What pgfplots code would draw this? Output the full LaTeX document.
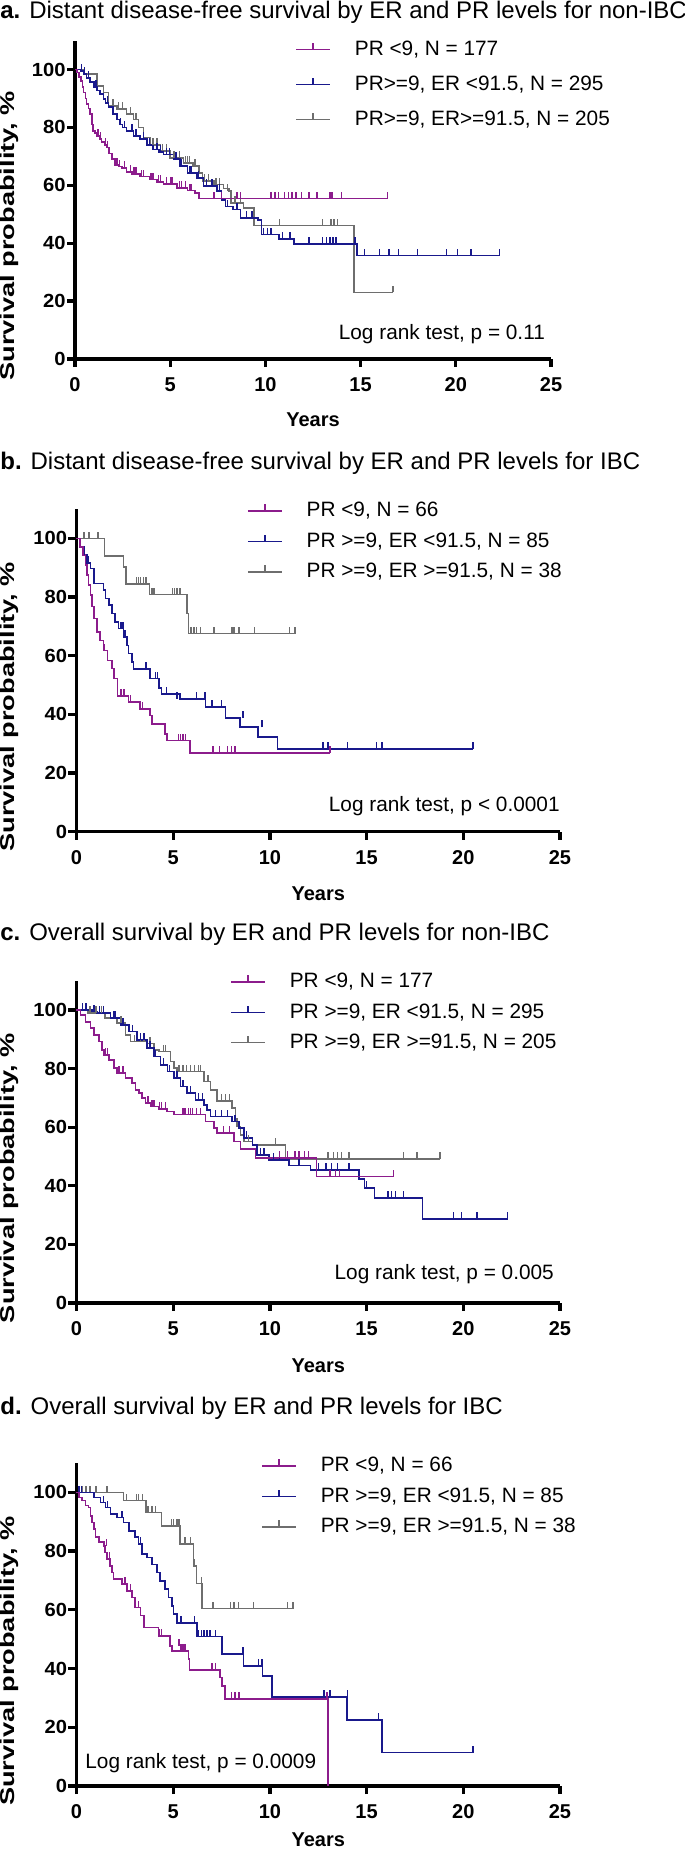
\documentclass[border=0pt]{standalone}
\usepackage{fontspec}
\setmainfont{Liberation Sans}
\usepackage{graphicx}
\usepackage{pgfplots}
\pgfplotsset{compat=1.18}
\definecolor{kmP}{RGB}{140,28,140}
\definecolor{kmB}{RGB}{25,25,140}
\definecolor{kmG}{RGB}{110,110,110}
\pgfdeclareplotmark{cens}{\pgfpathmoveto{\pgfpointorigin}\pgfpathlineto{\pgfpoint{0pt}{3.4pt}}\pgfusepathqstroke}
\pgfplotsset{
 km/.style={
  scale only axis, xmin=0, xmax=25, ymin=0, ymax=110,
  axis lines=left, axis line style={-, line width=1.6pt},
  xtick={0,5,10,15,20,25}, ytick={0,20,40,60,80,100},
  tick align=outside, major tick length=4pt,
  tick style={line width=1.6pt, black},
  /pgf/number format/assume math mode=true,
  xticklabel style={font=\bfseries\fontsize{10}{11}\selectfont, anchor=base, inner sep=0pt, yshift=-12.2pt},
  yticklabel style={font=\bfseries\fontsize{9.5}{10}\selectfont, anchor=east, inner sep=0pt, xshift=-0.5pt},
  yticklabel={\scalebox{1.06}[1]{\pgfmathprintnumber{\tick}}},
  xlabel={Years}, ylabel={\scalebox{1.36}[1]{Survival probability, \%}},
  label style={font=\bfseries\fontsize{10}{12}\selectfont},
  clip=false,
  legend cell align=left,
  legend style={draw=none, fill=none, inner sep=0pt, anchor=west, row sep=2.4pt,
     font=\fontsize{10.4}{12}\selectfont},
  legend image code/.code={\draw (0pt,0pt) -- (17pt,0pt); \draw (8.5pt,0pt) -- (8.5pt,3.4pt); \path (27pt,0pt);},
 },
 kmstep/.style={const plot, line width=0.8pt, forget plot, mark=none},
 kmcens/.style={only marks, mark=cens, line width=0.7pt, forget plot},
}
\begin{document}
\begin{tikzpicture}
\path[use as bounding box] (0pt,0pt) rectangle (342.5pt,926.5pt);
\tikzset{ttl/.style={anchor=base west, inner sep=0pt, font=\fontsize{12}{14}\selectfont}}
\node[ttl] at (0pt,917.35pt) {\textbf{a.} Distant disease-free survival by ER and PR levels for non-IBC};
\node[ttl] at (0pt,691.5pt) {\textbf{b.} Distant disease-free survival by ER and PR levels for IBC};
\node[ttl] at (0pt,456.25pt) {\textbf{c.} Overall survival by ER and PR levels for non-IBC};
\node[ttl] at (0pt,219.35pt) {\textbf{d.} Overall survival by ER and PR levels for IBC};

% ---------------- panel a
\begin{axis}[km, at={(37.5pt,747pt)}, anchor=south west, width=238pt, height=159.2pt,
  ylabel style={at={(axis description cs:-0.138,0.387)}, anchor=center},
  xlabel style={at={(axis description cs:0.5,0)}, anchor=base, yshift=-33.7pt},
  legend style={at={(axis cs:11.55,94.8)}, row sep=4.7pt}]
\addlegendimage{kmP, line width=0.8pt}\addlegendentry{PR <9, N = 177}
\addlegendimage{kmB, line width=0.8pt}\addlegendentry{PR>=9, ER <91.5, N = 295}
\addlegendimage{kmG, line width=0.8pt}\addlegendentry{PR>=9, ER>=91.5, N = 205}
\addplot[kmstep, kmG] coordinates {(0,100) (0.5,98.5) (1.14,94.4) (1.5,92) (1.75,87.5) (2.2,86.3) (2.7,84.6) (3.07,82.8) (3.33,80) (3.6,76.5) (3.95,74) (4.5,71.8) (5.0,69.5) (5.7,67.8) (6.2,66.6) (6.5,64.3) (6.7,61.4) (7.3,60.3) (7.8,58.9) (8.1,58) (8.2,53.9) (8.85,52.1) (9.4,46.1) (14.65,23) (16.7,23)};
\addplot[kmcens, kmG] coordinates {(2.0,87.5) (2.3,86.3) (2.5,86.3) (2.9,84.6) (3.2,82.8) (4.1,74) (4.3,74) (4.6,71.8) (4.8,71.8) (5.2,69.5) (5.5,69.5) (5.8,67.8) (5.9,67.8) (6.0,67.8) (6.3,66.6) (6.8,61.4) (7.0,61.4) (7.4,60.3) (7.6,60.3) (8.0,58) (8.4,53.9) (8.7,53.9) (10.75,46.1) (13.0,46.1) (13.45,46.1) (13.6,46.1) (13.8,46.1) (16.7,23)};
\addplot[kmstep, kmB] coordinates {(0,100) (0.3,99.5) (0.44,98.5) (0.6,97) (0.8,95.6) (1.0,94) (1.14,92.7) (1.3,91.5) (1.5,89.8) (1.6,88.5) (1.75,87) (2.0,84.6) (2.2,82.8) (2.37,81) (2.5,80) (2.7,78.8) (3.07,77) (3.4,75.9) (3.77,74) (4.1,72.4) (4.4,71.6) (4.65,70.7) (5.2,69) (5.5,66.6) (5.9,64.3) (6.4,62.6) (6.75,59.7) (7.46,58) (7.7,55) (7.9,52.7) (8.3,51.6) (8.7,48.7) (9.6,48) (9.8,43) (10.7,41.5) (11.5,39.8) (14.8,35.8) (22.3,35.8)};
\addplot[kmcens, kmB] coordinates {(0.35,99.5) (0.5,98.5) (0.7,97) (1.1,94) (1.7,88.5) (2.4,81) (2.6,80) (3.0,78.8) (3.2,77) (3.6,75.9) (3.9,74) (4.3,72.4) (4.5,71.6) (4.8,70.7) (4.95,70.7) (5.3,69) (5.6,66.6) (6.0,64.3) (6.1,64.3) (6.5,62.6) (6.9,59.7) (7.2,59.7) (7.6,58) (8.0,52.7) (8.5,51.6) (9.0,48.7) (9.3,48.7) (9.9,43) (10.1,43) (10.3,43) (10.9,41.5) (11.3,41.5) (12.3,39.8) (13.0,39.8) (13.2,39.8) (13.4,39.8) (13.55,39.8) (13.7,39.8) (14.7,39.8) (15.2,35.8) (16.0,35.8) (16.5,35.8) (17.0,35.8) (18.0,35.8) (19.5,35.8) (20.1,35.8) (20.8,35.8) (22.3,35.8)};
\addplot[kmstep, kmP] coordinates {(0,100) (0.1,99) (0.2,97.5) (0.3,96) (0.4,94) (0.45,92) (0.55,90) (0.6,88) (0.7,86.5) (0.8,84.6) (0.9,81) (0.96,78.8) (1.05,78) (1.14,77) (1.3,76) (1.4,75) (1.55,74) (1.67,73) (1.8,71) (1.93,69) (2.1,67) (2.3,66.5) (2.46,66) (2.7,64.7) (3.0,64) (3.4,63) (3.95,62) (4.3,61.2) (4.65,60.5) (5.35,59.1) (5.9,58.2) (6.3,57.4) (6.5,55.4) (16.4,55.4)};
\addplot[kmcens, kmP] coordinates {(1.2,77) (1.35,76) (1.6,74) (1.7,73) (2.2,67) (2.35,66.5) (2.6,66) (2.9,64.7) (3.1,64) (3.2,64) (3.5,63) (3.6,63) (4.0,62) (4.1,62) (4.4,61.2) (4.5,61.2) (4.8,60.5) (5.0,60.5) (5.1,60.5) (5.5,59.1) (5.6,59.1) (5.8,59.1) (6.0,58.2) (6.1,58.2) (7.3,55.4) (7.7,55.4) (8.5,55.4) (8.7,55.4) (10.3,55.4) (10.5,55.4) (10.7,55.4) (11.0,55.4) (11.2,55.4) (11.4,55.4) (11.6,55.4) (11.9,55.4) (12.3,55.4) (12.7,55.4) (13.4,55.4) (13.5,55.4) (14.0,55.4) (16.4,55.4)};
\node[anchor=base east, inner sep=0pt, font=\fontsize{10.4}{12}\selectfont] at (axis cs:24.7,6.6) {Log rank test, p = 0.11};
\end{axis}

% ---------------- panel b
\begin{axis}[km, at={(38.25pt,510.65pt)}, anchor=south west, width=241.75pt, height=161.35pt,
  ylabel style={at={(axis description cs:-0.139,0.387)}, anchor=center},
  xlabel style={at={(axis description cs:0.5,0)}, anchor=base, yshift=-34.5pt},
  legend style={at={(axis cs:8.8,98.9)}}]
\addlegendimage{kmP, line width=0.8pt}\addlegendentry{PR <9, N = 66}
\addlegendimage{kmB, line width=0.8pt}\addlegendentry{PR >=9, ER <91.5, N = 85}
\addlegendimage{kmG, line width=0.8pt}\addlegendentry{PR >=9, ER >=91.5, N = 38}
\addplot[kmstep, kmG] coordinates {(0,100) (1.45,94) (2.43,90.3) (2.57,84.4) (3.78,80.9) (5.7,74.4) (5.8,67.5) (11.3,67.5)};
\addplot[kmcens, kmG] coordinates {(0.38,100) (0.64,100) (1.12,100) (3.1,84.4) (3.2,84.4) (3.3,84.4) (3.45,84.4) (3.6,84.4) (3.9,80.9) (4.0,80.9) (4.95,80.9) (5.07,80.9) (5.2,80.9) (5.35,80.9) (5.93,67.5) (6.07,67.5) (6.2,67.5) (6.4,67.5) (7.1,67.5) (8.05,67.5) (8.14,67.5) (8.4,67.5) (9.2,67.5) (11.0,67.5) (11.3,67.5)};
\addplot[kmstep, kmB] coordinates {(0,100) (0.2,97) (0.38,94.3) (0.55,91.5) (0.72,89.7) (0.89,84.6) (1.4,82.3) (1.49,79.5) (1.66,77.2) (1.83,74.4) (2.0,71.5) (2.17,69.2) (2.43,66.4) (2.6,63.5) (2.69,60.7) (2.86,57.9) (2.95,55.4) (3.8,52.2) (4.28,49) (4.4,47) (5.34,45.3) (6.68,42.5) (7.71,38.8) (8.46,35.6) (9.37,32.2) (10.4,28.2) (20.5,28.2)};
\addplot[kmcens, kmB] coordinates {(0.4,94.3) (0.6,91.5) (1.5,79.5) (1.7,77.2) (2.3,69.2) (2.4,69.2) (2.5,66.4) (3.6,55.4) (4.1,52.2) (4.2,52.2) (4.65,47) (5.2,45.3) (6.2,45.3) (6.65,45.3) (7.0,42.5) (7.5,42.5) (8.6,38.8) (9.6,35.6) (12.75,28.2) (13.0,28.2) (14.0,28.2) (15.5,28.2) (15.8,28.2) (20.5,28.2)};
\addplot[kmstep, kmP] coordinates {(0,100) (0.17,97) (0.34,94.3) (0.46,90.9) (0.55,87.5) (0.63,84) (0.72,80.6) (0.8,76.7) (0.92,72.7) (1.06,68) (1.23,65.2) (1.4,61.8) (1.61,58.4) (1.83,55.6) (1.95,52.2) (2.12,46.2) (2.69,44.2) (3.29,41.9) (3.8,39.6) (3.9,36.7) (4.57,33.4) (4.69,31.1) (5.86,26.9) (13.1,26.9)};
\addplot[kmcens, kmP] coordinates {(0.8,76.7) (1.45,61.8) (1.85,55.6) (2.3,46.2) (2.45,46.2) (2.8,44.2) (3.4,41.9) (5.26,31.1) (5.38,31.1) (5.5,31.1) (5.64,31.1) (7.05,26.9) (7.4,26.9) (7.8,26.9) (8.0,26.9) (8.2,26.9) (13.1,26.9)};
\node[anchor=base east, inner sep=0pt, font=\fontsize{10.4}{12}\selectfont] at (axis cs:25.0,6.8) {Log rank test, p < 0.0001};
\end{axis}

% ---------------- panel c
\begin{axis}[km, at={(38.25pt,275pt)}, anchor=south west, width=241.75pt, height=161.15pt,
  ylabel style={at={(axis description cs:-0.139,0.387)}, anchor=center},
  xlabel style={at={(axis description cs:0.5,0)}, anchor=base, yshift=-34.7pt},
  legend style={at={(axis cs:7.93,99.2)}}]
\addlegendimage{kmP, line width=0.8pt}\addlegendentry{PR <9, N = 177}
\addlegendimage{kmB, line width=0.8pt}\addlegendentry{PR >=9, ER <91.5, N = 295}
\addlegendimage{kmG, line width=0.8pt}\addlegendentry{PR >=9, ER >=91.5, N = 205}
\addplot[kmstep, kmG] coordinates {(0,100) (0.6,99) (1.46,97.2) (2.1,95.5) (2.53,91.5) (2.79,89.2) (3.65,88.6) (4.0,86.4) (4.26,85.8) (4.86,82.4) (5.03,80.1) (5.21,79) (6.59,75.6) (6.93,72.7) (7.28,69) (8.05,66.5) (8.22,63) (8.31,60.2) (8.48,57.4) (8.66,55.1) (9.09,54) (10.8,49.2) (18.8,49.2)};
\addplot[kmcens, kmG] coordinates {(0.5,100) (0.7,99) (1.0,99) (1.3,99) (2.3,95.5) (3.0,89.2) (3.3,89.2) (3.5,89.2) (3.8,88.6) (4.5,85.8) (4.6,85.8) (5.3,79) (5.5,79) (5.7,79) (5.9,79) (6.1,79) (6.3,79) (6.4,79) (6.8,75.6) (7.5,69) (7.7,69) (7.9,69) (8.9,55.1) (10.3,54) (13.0,49.2) (13.3,49.2) (13.5,49.2) (13.7,49.2) (14.1,49.2) (16.9,49.2) (17.6,49.2) (18.8,49.2)};
\addplot[kmstep, kmB] coordinates {(0,100) (0.8,99.5) (1.07,98.9) (1.76,97.2) (2.3,94.9) (2.7,92.6) (3.14,89.8) (3.65,87) (4.0,84.1) (4.35,81.3) (4.7,79) (5.03,76.7) (5.38,73.9) (5.72,71.6) (6.16,69.3) (6.59,67.6) (6.76,65.9) (6.93,63.6) (8.05,61.9) (8.4,59.7) (8.66,56.3) (9.09,54) (9.34,50.6) (9.95,48.9) (11.0,46.9) (12.1,45.3) (14.6,42.3) (14.9,39.2) (15.4,35.8) (17.9,28.6) (22.3,28.6)};
\addplot[kmcens, kmB] coordinates {(0.3,100) (0.5,100) (0.9,99.5) (1.2,98.9) (1.4,98.9) (1.9,97.2) (2.0,97.2) (2.4,94.9) (2.9,92.6) (3.3,89.8) (3.5,89.8) (3.8,87) (4.1,84.1) (4.5,81.3) (4.8,79) (5.2,76.7) (5.5,73.9) (5.9,71.6) (6.3,69.3) (6.5,69.3) (7.2,63.6) (7.5,63.6) (7.8,63.6) (8.2,61.9) (8.8,56.3) (9.5,50.6) (9.7,50.6) (10.2,48.9) (10.5,48.9) (11.5,46.9) (12.5,45.3) (12.9,45.3) (13.2,45.3) (13.5,45.3) (14.1,45.3) (15.0,39.2) (16.1,35.8) (16.3,35.8) (16.5,35.8) (16.9,35.8) (19.5,28.6) (19.9,28.6) (20.7,28.6) (22.3,28.6)};
\addplot[kmstep, kmP] coordinates {(0,100) (0.2,98.3) (0.47,96) (0.72,93.8) (0.9,91.5) (1.16,89.2) (1.33,86.4) (1.41,84.7) (1.67,83) (1.93,80.1) (2.1,78.4) (2.53,76.7) (2.88,75) (3.05,72.7) (3.22,71.6) (3.4,69.9) (3.57,68.2) (3.83,67) (4.26,66.3) (4.69,65.3) (5.03,64.4) (6.67,61.9) (7.1,59.7) (7.28,58) (8.14,55.1) (8.48,52.5) (9.26,49.4) (12.4,43.2) (16.4,43.2)};
\addplot[kmcens, kmP] coordinates {(1.5,84.7) (1.6,84.7) (2.2,78.4) (2.4,78.4) (3.7,68.2) (3.9,67) (4.0,67) (4.3,66.3) (4.4,66.3) (4.6,66.3) (5.5,64.4) (5.6,64.4) (5.8,64.4) (5.9,64.4) (6.0,64.4) (6.2,64.4) (6.4,64.4) (7.6,58) (7.9,58) (10.5,49.4) (10.9,49.4) (11.3,49.4) (11.5,49.4) (11.8,49.4) (12.0,49.4) (13.1,43.2) (13.4,43.2) (13.6,43.2) (16.4,43.2)};
\node[anchor=base east, inner sep=0pt, font=\fontsize{10.4}{12}\selectfont] at (axis cs:24.7,8.1) {Log rank test, p = 0.005};
\end{axis}

% ---------------- panel d
\begin{axis}[km, at={(38.25pt,33.5pt)}, anchor=south west, width=241.75pt, height=161.5pt,
  ylabel style={at={(axis description cs:-0.139,0.387)}, anchor=center},
  xlabel style={at={(axis description cs:0.5,0)}, anchor=base, yshift=-30.5pt},
  legend style={at={(axis cs:9.53,98.6)}}]
\addlegendimage{kmP, line width=0.8pt}\addlegendentry{PR <9, N = 66}
\addlegendimage{kmB, line width=0.8pt}\addlegendentry{PR >=9, ER <91.5, N = 85}
\addlegendimage{kmG, line width=0.8pt}\addlegendentry{PR >=9, ER >=91.5, N = 38}
\addplot[kmstep, kmG] coordinates {(0,100) (2.44,97.2) (3.6,93.2) (4.4,88.6) (5.36,82.4) (6.05,75) (6.2,69) (6.48,60.5) (11.24,60.5)};
\addplot[kmcens, kmG] coordinates {(0.12,100) (0.3,100) (0.5,100) (0.7,100) (1.0,100) (1.58,100) (2.6,97.2) (3.1,97.2) (3.2,97.2) (3.4,97.2) (3.7,93.2) (3.9,93.2) (4.1,93.2) (4.9,88.6) (5.0,88.6) (5.2,88.6) (5.3,88.6) (5.6,82.4) (5.9,82.4) (6.1,75) (6.45,69) (7.05,60.5) (7.97,60.5) (8.14,60.5) (8.37,60.5) (9.14,60.5) (10.9,60.5) (11.2,60.5)};
\addplot[kmstep, kmB] coordinates {(0,100) (0.89,98.3) (1.24,96.6) (1.5,94.9) (1.75,92.6) (2.1,91.5) (2.44,89.8) (2.7,86.9) (3.04,84.7) (3.21,82.4) (3.38,79) (3.64,77.8) (3.9,75.5) (4.16,72.7) (4.33,69.9) (4.59,67) (4.76,64.2) (4.93,61.4) (5.02,58.5) (5.19,55.5) (6.22,50.9) (7.51,44.9) (8.63,40.9) (9.62,37.5) (10.1,30.3) (14.0,22.5) (15.8,11.4) (20.5,11.4)};
\addplot[kmcens, kmB] coordinates {(0.12,100) (0.25,100) (1.4,96.6) (1.6,94.9) (2.35,91.5) (3.3,82.4) (4.2,72.7) (5.4,55.5) (6.1,55.5) (6.3,50.9) (6.45,50.9) (6.6,50.9) (6.75,50.9) (6.9,50.9) (7.2,50.9) (8.6,44.9) (9.4,40.9) (9.6,40.9) (12.8,30.3) (13.1,30.3) (14.0,30.3) (15.6,22.5) (20.5,11.4)};
\addplot[kmstep, kmP] coordinates {(0,100) (0.12,98.3) (0.29,97.2) (0.46,95.5) (0.63,94.9) (0.72,92) (0.81,89.8) (0.89,87.5) (0.98,84.7) (1.15,83) (1.41,81.8) (1.46,79.5) (1.58,77.3) (1.72,75) (1.84,72.7) (1.92,70.5) (2.35,68.8) (2.61,66.5) (2.87,64.2) (3.04,60.8) (3.3,58) (3.5,54) (4.24,51) (4.85,47.7) (4.93,46) (5.79,43.2) (5.84,39.5) (7.42,36.9) (7.51,34.1) (7.68,29.6) (13.0,0)};
\addplot[kmcens, kmP] coordinates {(1.55,81.8) (1.7,77.3) (2.5,68.8) (2.8,66.5) (3.2,60.8) (4.3,51) (4.4,51) (5.3,47.7) (5.4,46) (5.5,46) (5.6,46) (7.0,39.5) (7.2,39.5) (8.0,29.6) (8.2,29.6) (8.4,29.6) (12.95,29.6)};
\node[anchor=base west, inner sep=0pt, font=\fontsize{10.4}{12}\selectfont] at (axis cs:0.44,6.0) {Log rank test, p = 0.0009};
\end{axis}
\end{tikzpicture}
\end{document}
